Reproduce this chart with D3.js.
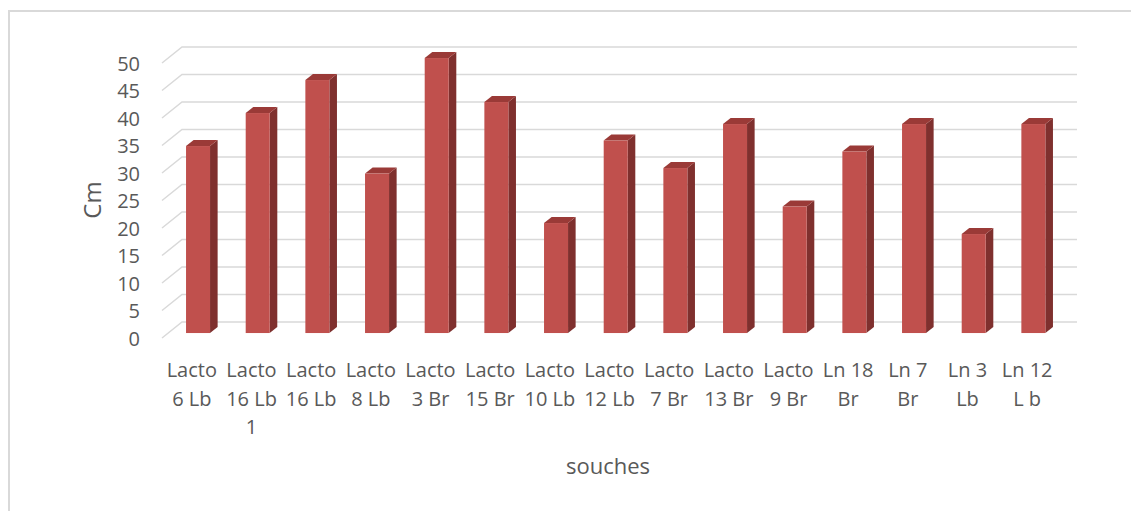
<!DOCTYPE html>
<html>
<head>
<meta charset="utf-8">
<script src="https://cdn.jsdelivr.net/npm/d3@7/dist/d3.min.js"></script>
<style>
  html, body { margin: 0; padding: 0; background: #fff; }
  svg { display: block; font-family: "Open Sans", "Noto Sans", sans-serif; }
</style>
</head>
<body>
<svg id="chart" width="1131" height="511"></svg>
<script>
// Strains and measured lengths (cm)
const categories = [
  "Lacto 6 Lb", "Lacto 16 Lb 1", "Lacto 16 Lb", "Lacto 8 Lb", "Lacto 3 Br",
  "Lacto 15 Br", "Lacto 10 Lb", "Lacto 12 Lb", "Lacto 7 Br", "Lacto 13 Br",
  "Lacto 9 Br", "Ln 18 Br", "Ln 7 Br", "Ln 3 Lb", "Ln 12 L b"
];
const values = [34, 40, 46, 29, 50, 42, 20, 35, 30, 38, 23, 33, 38, 18, 38];
const yTicks = [0, 5, 10, 15, 20, 25, 30, 35, 40, 45, 50];
const yTitle = "Cm";
const xTitle = "souches";

const svg = d3.select("#chart");
const textColor = "#595959";
const gridColor = "#d9d9d9";

// outer chart-area frame
svg.append("rect")
  .attr("x", 9).attr("y", 11)
  .attr("width", 1300).attr("height", 700)
  .attr("fill", "#fff")
  .attr("stroke", gridColor).attr("stroke-width", 2);

// Back wall scales
const y = d3.scaleLinear().domain([0, 50]).range([322, 47]);
const x = d3.scaleBand().domain(categories).range([182, 1077]);

// Oblique depth: moving from back wall (t=0) to front edge (t=1)
const depthDX = -20, depthDY = 16;
const off = t => [depthDX * t, depthDY * t];

// Gridlines: diagonal on the floor side, then across the back wall
const grid = svg.append("g");
yTicks.forEach(v => {
  const [fx, fy] = off(1);
  grid.append("path")
    .attr("d", `M${x.range()[0] + fx},${y(v) + fy}L${x.range()[0]},${y(v)}L${x.range()[1]},${y(v)}`)
    .attr("fill", "none")
    .attr("stroke", gridColor)
    .attr("stroke-width", 1.5);
});

// Y tick labels, placed at the front plane
svg.append("g").selectAll("text")
  .data(yTicks).join("text")
  .attr("x", 140)
  .attr("y", d => y(d) + off(1)[1])
  .attr("text-anchor", "end")
  .attr("dominant-baseline", "central")
  .attr("font-size", 20)
  .attr("fill", textColor)
  .text(d => d);

// 3D columns
const barW = 24;
const tFront = 0.69, tBack = 0.31;
const [ofx, ofy] = off(tFront);
const [obx, oby] = off(tBack);
const sdx = obx - ofx, sdy = oby - ofy;

const bars = svg.append("g").selectAll("g")
  .data(categories.map((c, i) => ({ c, v: values[i] })))
  .join("g");

bars.each(function(d) {
  const g = d3.select(this);
  const x0 = x(d.c) + x.bandwidth() / 2 - barW / 2 + ofx;
  const x1 = x0 + barW;
  const yb = y(0) + ofy;
  const yt = y(d.v) + ofy;
  // side face
  g.append("path")
    .attr("d", `M${x1},${yb}L${x1 + sdx},${yb + sdy}L${x1 + sdx},${yt + sdy}L${x1},${yt}Z`)
    .attr("fill", "#7f302e");
  // top face
  g.append("path")
    .attr("d", `M${x0},${yt}L${x0 + sdx},${yt + sdy}L${x1 + sdx},${yt + sdy}L${x1},${yt}Z`)
    .attr("fill", "#9a3a37");
  // front face
  g.append("rect")
    .attr("x", x0).attr("y", yt)
    .attr("width", barW).attr("height", yb - yt)
    .attr("fill", "#c0504d");
});

// Category labels, wrapped to the category width
const labelG = svg.append("g");
const maxW = x.step() - 2;
categories.forEach(c => {
  const cx = x(c) + x.bandwidth() / 2 + off(1)[0];
  const t = labelG.append("text")
    .attr("x", cx)
    .attr("y", 377)
    .attr("text-anchor", "middle")
    .attr("font-size", 20)
    .attr("fill", textColor);
  const words = c.split(" ");
  let lines = [];
  let line = [];
  const probe = t.append("tspan");
  words.forEach(w => {
    const test = line.concat(w).join(" ");
    probe.text(test);
    if (line.length && probe.node().getComputedTextLength() > maxW) {
      lines.push(line.join(" "));
      line = [w];
    } else {
      line.push(w);
    }
  });
  lines.push(line.join(" "));
  probe.remove();
  lines.forEach((l, i) => {
    t.append("tspan")
      .attr("x", cx)
      .attr("dy", i === 0 ? 0 : 28.5)
      .text(l);
  });
});

// Axis titles
svg.append("text")
  .attr("transform", "translate(101,200) rotate(-90)")
  .attr("text-anchor", "middle")
  .attr("font-size", 24)
  .attr("fill", textColor)
  .text(yTitle);

svg.append("text")
  .attr("x", 608)
  .attr("y", 474)
  .attr("text-anchor", "middle")
  .attr("font-size", 22)
  .attr("fill", textColor)
  .text(xTitle);
</script>
</body>
</html>
